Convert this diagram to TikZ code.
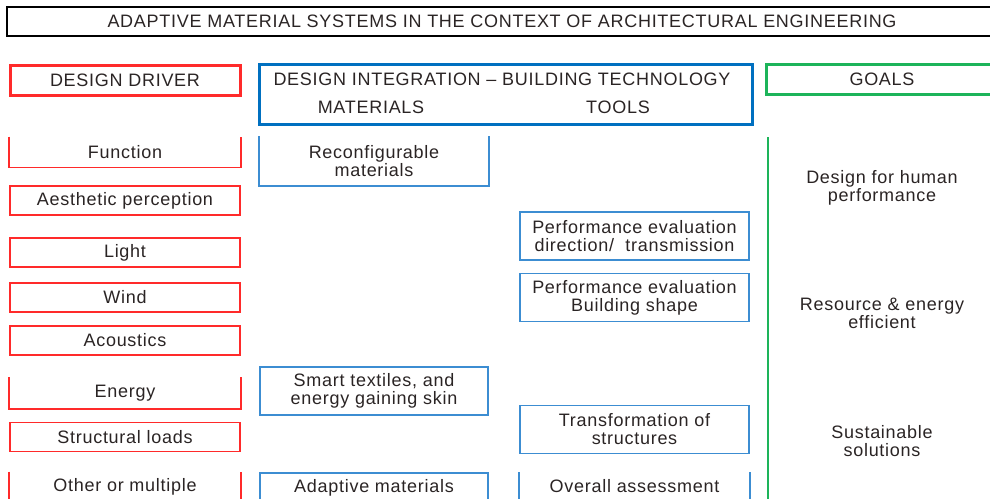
\documentclass[tikz,border=0pt]{standalone}
\usepackage{fontspec}
\setmainfont{Liberation Sans}[LetterSpace=4.0]
\usepackage{tikz}
\definecolor{drvred}{HTML}{FF2A2A}
\definecolor{intblue}{HTML}{0070C0}
\definecolor{toolblue}{HTML}{3C8DD2}
\definecolor{goalgreen}{HTML}{1DB45A}
\definecolor{inkdark}{HTML}{2A2424}

\begin{document}
\begin{tikzpicture}[x=1pt,y=-1pt,font=\fontsize{18}{18}\selectfont]
    \tikzstyle{title}=[draw=black,line width=2pt,minimum width=990pt,minimum height=29pt,inner sep=0pt,text=inkdark]
    \tikzstyle{head}=[line width=3pt,minimum height=30pt,inner sep=0pt,text=inkdark]
    \tikzstyle{driver}=[draw=drvred,line width=1.6pt,minimum width=230pt,minimum height=29pt,inner sep=0pt,text=inkdark,align=center]
    \tikzstyle{tech}=[draw=toolblue,line width=1.6pt,minimum width=229pt,minimum height=48pt,inner sep=0pt,text=inkdark,align=center]
    \tikzstyle{goal}=[text=inkdark,align=center]
    \tikzstyle{drvline}=[draw=drvred,line width=1.6pt]
    \tikzstyle{techline}=[draw=toolblue,line width=1.6pt]

    \clip (0,0) rectangle (990,498);

    % title and headers
    \node[title] (ttl) at (502,21.5) {ADAPTIVE MATERIAL SYSTEMS IN THE CONTEXT OF ARCHITECTURAL ENGINEERING};
    \node[head,draw=drvred,minimum width=230pt] (hdrv) at (125,80) {DESIGN DRIVER};
    \node[head,draw=intblue,minimum width=493pt,minimum height=60pt] (hint) at (505.5,94) {};
    \node[text=inkdark] (hintt) at (502,79) {DESIGN INTEGRATION -- BUILDING TECHNOLOGY};
    \node[text=inkdark] (hmat) at (371,107) {MATERIALS};
    \node[text=inkdark] (htool) at (618,107) {TOOLS};
    \node[head,draw=goalgreen,minimum width=232pt] (hgoal) at (882,79.5) {GOALS};

    % design drivers
    \node[driver,draw=none] (fun) at (125,152) {Function};
    \node[driver] (aes) at (125,200.5) {Aesthetic perception};
    \node[driver] (light) at (125,252.5) {Light};
    \node[driver] (wind) at (125,297.5) {Wind};
    \node[driver] (acou) at (125,340.5) {Acoustics};
    \node[driver,draw=none,minimum height=30pt] (energy) at (125,393) {Energy};
    \node[driver] (loads) at (125,437) {Structural loads};
    \node[driver,draw=none] (other) at (125,487) {Other or multiple};
    \draw[drvline] (fun.north west) -- (fun.south west) -- (fun.south east) -- (fun.north east);
    \draw[drvline] (energy.north west) -- (energy.south west) -- (energy.south east) -- (energy.north east);
    \draw[drvline] (other.north west) -- (other.south west) -- (other.south east) -- (other.north east);

    % materials
    \node[tech,draw=none,minimum width=228pt] (reconf) at (374,161) {Reconfigurable\\materials};
    \node[tech,minimum width=228pt] (smart) at (374,391) {Smart textiles, and\\energy gaining skin};
    \node[tech,minimum width=228pt,minimum height=30pt] (adapt) at (374,488) {Adaptive materials};
    \draw[techline] (reconf.north west) -- (reconf.south west) -- (reconf.south east) -- (reconf.north east);

    % tools
    \node[tech] (perfdir) at (634.5,236) {Performance evaluation\\direction/\ \ transmission};
    \node[tech] (perfshape) at (634.5,297.5) {Performance evaluation\\Building shape};
    \node[tech] (transf) at (634.5,429.5) {Transformation of\\structures};
    \node[tech,draw=none,minimum height=26pt] (overall) at (634.5,486) {Overall assessment};
    \draw[techline] (overall.north west) -- (overall.south west) -- (overall.south east) -- (overall.north east);

    % goals
    \coordinate (gtop) at (768,137);
    \coordinate (gbot) at (768,500);
    \draw[goalgreen,line width=2pt] (gtop) -- (gbot);
    \node[goal] (human) at (882,188) {Design for human\\performance};
    \node[goal] (resource) at (882,313) {Resource \& energy\\efficient};
    \node[goal] (sustain) at (882,441) {Sustainable\\solutions};

\end{tikzpicture}
\end{document}
